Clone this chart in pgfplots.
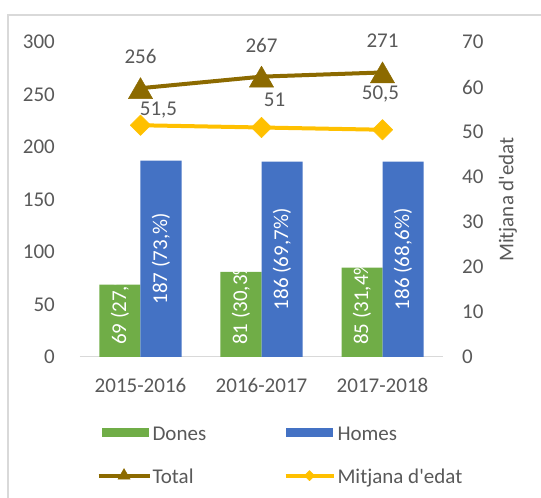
\documentclass[border=0pt]{standalone}
\usepackage{fontspec}
\setmainfont{Carlito}
\usepackage{pgfplots}
\pgfplotsset{compat=1.18}
\definecolor{cGreen}{HTML}{70AD47}
\definecolor{cBlue}{HTML}{4472C4}
\definecolor{cTotal}{HTML}{8C6A00}
\definecolor{cAge}{HTML}{FFC000}
\definecolor{cText}{HTML}{595959}
\definecolor{cFrame}{HTML}{D9D9D9}
\newcommand{\fs}{\fontsize{21}{25}\selectfont}
\begin{document}
\begin{tikzpicture}
\path[use as bounding box] (0,0) rectangle (541pt,498pt);
\draw[cFrame, line width=1.5pt] (8pt,0) -- (8pt,483pt) -- (541pt,483pt);
\pgfplotsset{base/.style={scale only axis, width=363pt, height=315pt,
  at={(80pt,141pt)}, anchor=south west, xmin=-0.5, xmax=2.5,
  /pgf/number format/assume math mode=true,
  tick label style={font=\fs, text=cText}, tick style={draw=none}, clip=false}}
\begin{axis}[base, ymin=0, ymax=300, ytick={0,50,...,300},
  xtick={0,1,2}, xticklabels={2015-2016,2016-2017,2017-2018},
  axis x line*=bottom, axis y line*=left,
  y axis line style={draw=none}, x axis line style={cFrame, line width=1pt},
  yticklabel style={anchor=east, inner sep=0pt, xshift=-25pt},
  xticklabel style={anchor=north, inner sep=0pt, yshift=-21pt}]
\addplot[ybar, bar width=41pt, bar shift=-20.5pt, fill=cGreen, draw=none]
  coordinates {(0,69) (1,81) (2,85)};
\addplot[ybar, bar width=41pt, bar shift=20.5pt, fill=cBlue, draw=none]
  coordinates {(0,187) (1,186) (2,186)};
\addplot[draw=none, mark=none, nodes near coords, point meta=explicit symbolic,
  every node near coord/.style={rotate=90, anchor=west, inner sep=0pt, font=\fs, text=white}]
  coordinates {(-0.1694,11.5) [69 (27,\%)] (0.8306,11.5) [81 (30,3\%)] (1.8306,11.5) [85 (31,4\%)]};
\addplot[draw=none, mark=none, nodes near coords, point meta=explicit symbolic,
  every node near coord/.style={rotate=90, anchor=center, inner sep=0pt, font=\fs, text=white}]
  coordinates {(0.1694,93.5) [187 (73,\%)] (1.1694,93) [186 (69,7\%)] (2.1694,93) [186 (68,6\%)]};
\addplot[cTotal, line width=4pt, line join=round, mark=triangle*, mark size=14pt,
  mark options={solid, line width=0.5pt, yshift=-3.5pt},
  nodes near coords, every node near coord/.style={anchor=center, yshift=35pt, font=\fs, text=cText}]
  coordinates {(0,256) (1,267) (2,271)};
\end{axis}
\begin{axis}[base, ymin=0, ymax=70, ytick={0,10,...,70}, xtick=\empty,
  axis y line*=right, axis x line=none, y axis line style={draw=none},
  yticklabel style={anchor=west, inner sep=0pt, xshift=19pt},
  ylabel={Mitjana d\textquotesingle edat},
  ylabel style={at={(axis description cs:1.179,0.5)}, anchor=center, font=\fs, text=cText},
  legend columns=2, legend cell align=left,
  legend style={at={(axis description cs:0.045,-0.203)}, anchor=north west, draw=none, fill=none,
    inner sep=0pt, row sep=20pt, font=\fs, text=cText, nodes={inner xsep=1pt, inner ysep=2pt}}]
\addlegendimage{draw=none, mark=none, fill=none, legend image code/.code={\path (0pt,0pt) -- (51pt,0pt); \fill[cGreen] (3pt,-4.5pt) rectangle (50pt,4.5pt);}}
\addlegendentry{\makebox[130pt][l]{\strut Dones}}
\addlegendimage{draw=none, mark=none, fill=none, legend image code/.code={\path (0pt,0pt) -- (51pt,0pt); \fill[cBlue] (0pt,-4.5pt) rectangle (47pt,4.5pt);}}
\addlegendentry{\makebox[130pt][l]{\strut Homes}}
\addlegendimage{draw=none, mark=none, fill=none, legend image code/.code={\draw[cTotal, line width=4pt, mark=triangle*, mark size=7pt, mark options={line width=0.5pt}, mark repeat=2, mark phase=2] plot coordinates {(0pt,0pt) (25.5pt,0pt) (51pt,0pt)};}}
\addlegendentry{\makebox[130pt][l]{\strut Total}}
\addplot[cAge, line width=4pt, line join=round, mark=square*, mark size=7.2pt,
  mark options={rotate=45, line width=0.5pt},
  legend image code/.code={\draw[cAge, line width=4pt, mark=square*, mark size=3.6pt, mark options={rotate=45, line width=0.5pt}, mark repeat=2, mark phase=2] plot coordinates {(0pt,0pt) (24pt,0pt) (48pt,0pt)};},
  nodes near coords, point meta=explicit symbolic,
  visualization depends on={\thisrow{dx} \as \dx},
  visualization depends on={\thisrow{dy} \as \dy},
  every node near coord/.style={anchor=center, xshift=\dx pt, yshift=\dy pt, font=\fs, text=cText}]
  table[meta=lab] {
x y dx dy lab
0 51.5 18 15 51,5
1 51 13 27.5 51
2 50.5 -2 36 50,5
};
\addlegendentry{\strut Mitjana d\textquotesingle edat}
\end{axis}
\end{tikzpicture}
\end{document}
